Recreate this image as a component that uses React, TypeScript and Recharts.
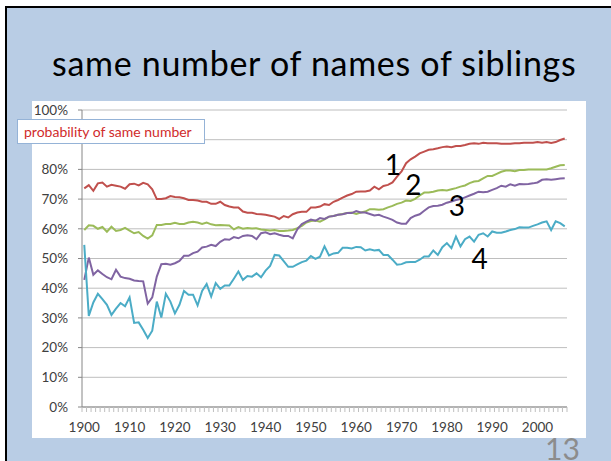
import React from 'react'
import { LineChart, Line, XAxis, YAxis, CartesianGrid, ReferenceDot } from 'recharts'

const years: number[] = []
for (let y = 1900; y <= 2006; y++) years.push(y)

const labelYears = [1900, 1910, 1920, 1930, 1940, 1950, 1960, 1970, 1980, 1990, 2000]
const yTicks = [0, 10, 20, 30, 40, 50, 60, 70, 80, 90, 100]

const series1 = [
  73.6, 74.7, 72.8, 75.3, 75.6, 74.2, 74.8, 74.5, 74.2, 73.5,
  75, 75.2, 74.6, 75.5, 75, 73.3, 70, 70, 70.3, 71,
  70.7, 70.6, 70.3, 69.7, 69.7, 69.5, 69.1, 69.1, 68.4, 68.4,
  69.1, 68, 67.5, 67.2, 67.2, 65.8, 65.4, 65.4, 65, 64.9,
  64.7, 64.4, 64.1, 63.3, 64.3, 63.8, 64.9, 65.5, 65.7, 65.7,
  67.2, 67.2, 67.5, 68.3, 68, 69.1, 69.7, 70.5, 71.2, 71.7,
  72.5, 72.6, 72.6, 72.9, 74.2, 73.3, 74.4, 74.8, 75.6, 77.6,
  79.3, 82.1, 83.4, 84.3, 85.4, 86, 86.6, 86.8, 87.1, 87.5,
  87.7, 87.5, 87.9, 87.9, 88.2, 88.6, 88.8, 88.6, 89, 88.8,
  88.8, 88.8, 88.6, 88.6, 88.6, 88.8, 88.8, 89, 89, 89,
  89.2, 89, 89.2, 88.9, 89.2, 89.9, 90.4,
]

const series2 = [
  59.6, 61.2, 61, 60, 60.6, 59, 60.7, 59.3, 59.6, 60.3,
  59.4, 58.5, 58.9, 57.6, 56.7, 57.8, 61.3, 61.3, 61.6, 61.6,
  62, 61.6, 61.6, 62.1, 62.4, 62.1, 61.6, 62.1, 61.5, 61.2,
  61.3, 61.2, 61.1, 59.8, 60.6, 60, 60.3, 60.1, 60.2, 59.8,
  59.6, 59.4, 59.6, 59.3, 59.3, 59.4, 59.6, 60.2, 61, 62.1,
  62.6, 62.8, 62.4, 63.2, 64.1, 64.3, 64.7, 65, 65.3, 65.5,
  65, 65.5, 65.8, 66.6, 66.6, 66.4, 66.6, 67.2, 67.7, 68.4,
  68.8, 69.5, 69.4, 70.1, 71.2, 72.2, 72.2, 72.5, 72.9, 73.1,
  72.9, 73.3, 73.7, 74.2, 74.6, 75.4, 75.9, 76.1, 77, 77.8,
  77.8, 78.5, 79.2, 79.6, 79.6, 79.4, 79.8, 79.8, 80, 80,
  80, 80, 80, 80.4, 80.9, 81.4, 81.5,
]

const series3 = [
  42.8, 50.3, 44.5, 46, 44.8, 43.7, 43, 46.2, 43.9, 43.4,
  43.2, 42.6, 42.4, 42.3, 34.8, 36.9, 43.9, 48.1, 48.2, 47.9,
  48.4, 49.2, 50.9, 50.9, 51.8, 52.3, 53.7, 54, 54.6, 54.2,
  55.6, 56.5, 56.3, 57.2, 56.8, 57.6, 57.8, 57.6, 56.5, 58.5,
  58.8, 58.2, 58.5, 58, 57.6, 57.6, 56.8, 59.8, 61.6, 62.4,
  63.1, 62.7, 63.6, 63.3, 64.1, 64.3, 64.7, 64.9, 65.3, 65.3,
  66, 65.5, 65.5, 65, 64.5, 64.7, 64.1, 63.6, 63, 62.1,
  61.7, 61.7, 63.6, 64.4, 64.9, 66.1, 67.2, 67.7, 67.8, 68.1,
  68.8, 69.2, 69.7, 70, 70.6, 71.2, 71.8, 72.5, 72.3, 72.5,
  73.1, 73.7, 74.5, 74.2, 75, 74.5, 75.1, 75, 75.1, 75.3,
  75.6, 76.5, 76.7, 76.5, 76.7, 76.9, 77,
]

const series4 = [
  54.6, 30.7, 35.2, 38.1, 36.3, 34.4, 31, 33.1, 35, 33.9,
  36.9, 28.3, 28.5, 26, 23.2, 25.7, 35.5, 30.1, 38.1, 35.5,
  31.5, 34.4, 39.1, 37.8, 37.8, 34.2, 39.1, 41.4, 37.2, 41.7,
  39.8, 40.9, 40.9, 43.2, 45.6, 42.8, 44.1, 43.9, 45, 43.7,
  45.9, 47.5, 51.2, 51, 49.1, 47.2, 47.2, 48, 48.8, 49.3,
  50.8, 49.9, 50.6, 54.1, 51, 51.7, 51.9, 53.6, 53.6, 53.4,
  53.9, 53.8, 52.7, 53.1, 52.7, 52.9, 51.2, 51.2, 49.6, 47.9,
  48.1, 48.7, 48.8, 48.8, 49.6, 50.7, 50.7, 52.7, 51.2, 53.8,
  55.2, 53.5, 57.4, 54.1, 56.5, 57.4, 55.7, 58, 58.5, 57.4,
  59.1, 58.7, 58.7, 59.1, 59.6, 59.9, 60.5, 60.4, 60.4, 61,
  61.5, 62.1, 62.5, 59.6, 62.5, 61.9, 60.8,
]

const annotations = [
  { text: '1', year: 1968.1, value: 81.5 },
  { text: '2', year: 1972.6, value: 74.8 },
  { text: '3', year: 1982.2, value: 67.7 },
  { text: '4', year: 1987.2, value: 49.7 },
]

const data = years.map((year, i) => ({
  year,
  s1: series1[i],
  s2: series2[i],
  s3: series3[i],
  s4: series4[i],
}))

// tick marks sit between the yearly categories, like the Excel axis
const boundaries = years.map((y) => y - 0.5).concat([years[years.length - 1] + 0.5])

const FONT = 'Lato, "Open Sans", sans-serif'
const CHART_W = 554
const CHART_H = 337
const PLOT_LEFT = 50
const PLOT_RIGHT = 19
const HALF_STEP = (CHART_W - PLOT_LEFT - PLOT_RIGHT) / years.length / 2

function YearTick(props: any) {
  const { x, y, payload } = props
  const year = payload.value + 0.5
  return (
    <g>
      <line x1={x} x2={x} y1={y} y2={y + 5} stroke="#BFBFBF" strokeWidth={1} />
      {labelYears.includes(year) && (
        <text x={x + HALF_STEP} y={y + 25} textAnchor="middle" fontSize={13.5} fill="#404040" fontFamily={FONT}>
          {year}
        </text>
      )}
    </g>
  )
}

export default function App() {
  return (
    <div style={{ position: 'absolute', left: 0, top: 0, width: 611, height: 461, background: '#fff', overflow: 'hidden' }}>
      <div
        style={{
          position: 'absolute', left: 5, top: 6, width: 620, height: 470,
          background: '#B9CDE5', borderLeft: '2.5px solid #000', borderTop: '2px solid #000',
        }}
      />
      <div
        style={{
          position: 'absolute', left: 52, top: 42, whiteSpace: 'nowrap',
          fontFamily: FONT, fontSize: 34, letterSpacing: 0.7, color: '#000', lineHeight: '42px',
        }}
      >
        same number of names of siblings
      </div>
      <div
        style={{
          position: 'absolute', left: 545, top: 430, fontFamily: FONT, fontSize: 30,
          color: '#8C8C8C', lineHeight: '36px',
        }}
      >
        13
      </div>
      <div style={{ position: 'absolute', left: 32, top: 101, width: CHART_W, height: CHART_H, background: '#fff' }}>
        <LineChart width={CHART_W} height={CHART_H} data={data} margin={{ top: 9, right: PLOT_RIGHT, bottom: 0, left: 0 }}>
          <CartesianGrid vertical={false} stroke="#BEBEBE" strokeWidth={1} />
          <XAxis
            dataKey="year"
            type="number"
            domain={[boundaries[0], boundaries[boundaries.length - 1]]}
            ticks={boundaries}
            interval={0}
            tick={<YearTick />}
            tickLine={false}
            tickSize={0}
            tickMargin={0}
            height={31}
            axisLine={{ stroke: '#868686' }}
            allowDataOverflow
          />
          <YAxis
            domain={[0, 100]}
            ticks={yTicks}
            interval={0}
            width={PLOT_LEFT}
            tickFormatter={(v: number) => `${v}%`}
            tick={{ fontSize: 13.5, fill: '#404040', fontFamily: FONT }}
            tickSize={4}
            tickMargin={10}
            tickLine={{ stroke: '#868686' }}
            axisLine={{ stroke: '#868686' }}
          />
          <Line dataKey="s1" stroke="#C0504D" strokeWidth={2} dot={false} isAnimationActive={false} />
          <Line dataKey="s2" stroke="#9BBB59" strokeWidth={2} dot={false} isAnimationActive={false} />
          <Line dataKey="s3" stroke="#8064A2" strokeWidth={2} dot={false} isAnimationActive={false} />
          <Line dataKey="s4" stroke="#4BACC6" strokeWidth={2} dot={false} isAnimationActive={false} />
          {annotations.map((a) => (
            <ReferenceDot
              key={a.text}
              x={a.year}
              y={a.value}
              r={0}
              fill="none"
              stroke="none"
              label={{ value: a.text, position: 'center', fontSize: 28, fill: '#000', fontFamily: FONT }}
            />
          ))}
        </LineChart>
      </div>
      <div
        style={{
          position: 'absolute', left: 17, top: 119, width: 180, height: 23, background: '#fff',
          border: '1px solid #95B3D7', fontFamily: FONT, fontSize: 14, color: '#D02B2B',
          lineHeight: '23px', paddingLeft: 6, boxSizing: 'content-box', whiteSpace: 'nowrap',
        }}
      >
        probability of same number
      </div>
    </div>
  )
}
